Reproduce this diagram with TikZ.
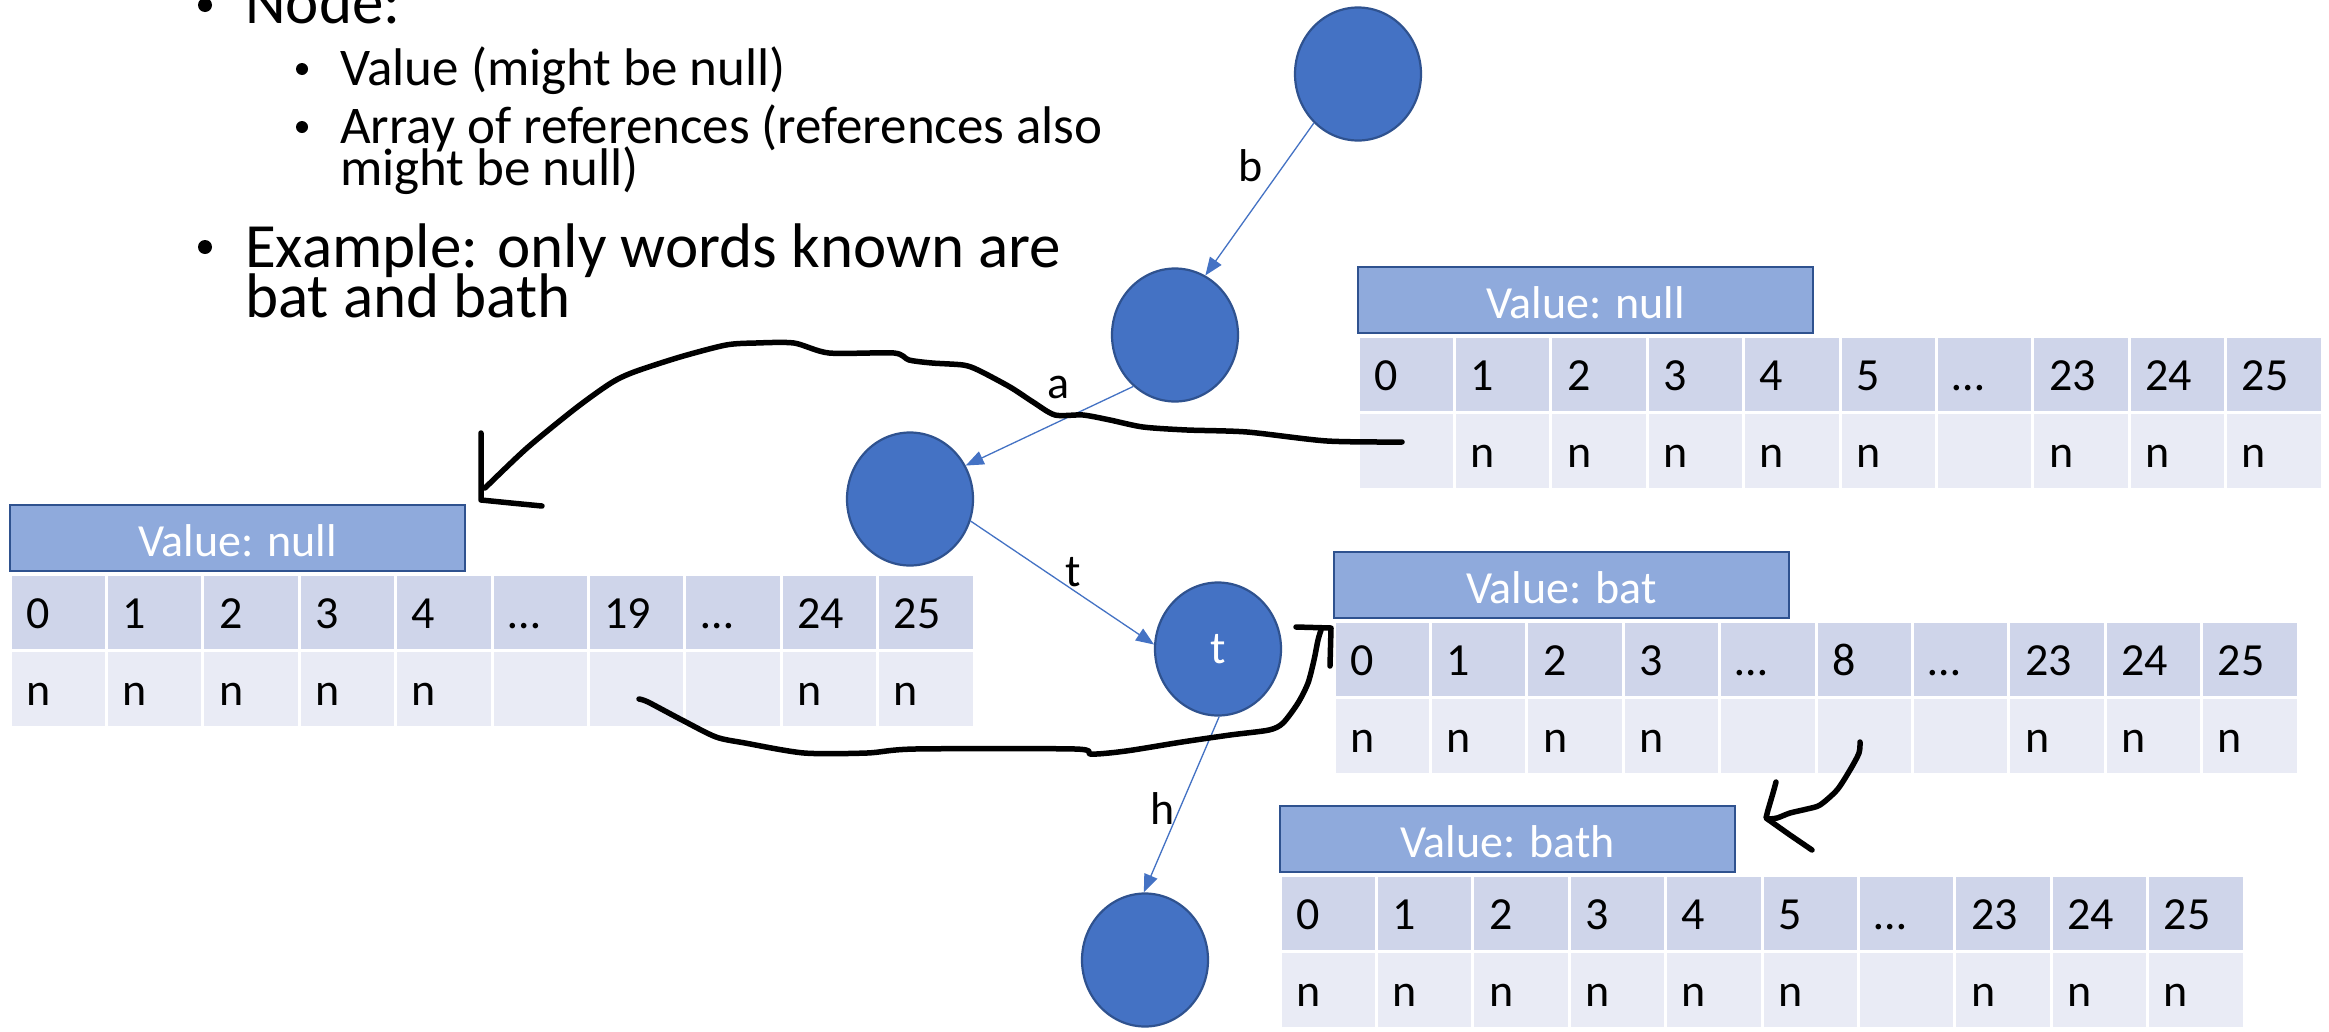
\documentclass[tikz,border=0pt]{standalone}
\usepackage{fontspec}
\setmainfont{Carlito}
\usetikzlibrary{shapes.geometric,arrows.meta}

\definecolor{nodefill}{HTML}{4472C4}
\definecolor{nodeedge}{HTML}{2F528F}
\definecolor{hdrfill}{HTML}{8FAADC}
\definecolor{hdredge}{HTML}{2F528F}
\definecolor{bandA}{HTML}{CFD5EA}
\definecolor{bandB}{HTML}{E9EBF5}

\tikzset{
  trienode/.style={ellipse, fill=nodefill, draw=nodeedge, line width=2.2pt,
    minimum width=126pt, minimum height=133pt, inner sep=0pt, text=white,
    font=\fontsize{46}{50}\selectfont},
  link/.style={draw=nodefill, line width=1.3pt, -{Triangle[length=18pt,width=14pt]}},
  linklabel/.style={anchor=base, inner sep=0pt, font=\fontsize{46}{50}\selectfont},
  ink/.style={line width=5.5pt, line cap=round, line join=round},
  hdr/.style={fill=hdrfill, draw=hdredge, line width=2.2pt},
  cellA/.style={fill=bandA, draw=white, line width=3pt},
  cellB/.style={fill=bandB, draw=white, line width=3pt},
  celltext/.style={anchor=base west, inner sep=0pt, font=\fontsize{46}{50}\selectfont},
  hdrtext/.style={anchor=base, inner sep=0pt, text=white, font=\fontsize{46}{50}\selectfont},
  bigtext/.style={anchor=base west, inner sep=0pt, font=\fontsize{63}{50}\selectfont},
  subtext/.style={anchor=base west, inner sep=0pt, font=\fontsize{53}{42}\selectfont},
}

% one trie node record: #1 name, #2 left x, #3 top y, #4 value text,
% #5 index row, #6 reference row
\newcommand{\childarray}[6]{%
  \path[hdr] (#2,#3) rectangle ++(455,66);
  \node[hdrtext] (#1-hdr) at ({#2+227.5},{#3+51}) {#4};
  \foreach \t [count=\i from 0] in {#5} {
    \path[cellA] ({#2+96.4*\i},{#3+69}) rectangle ++(96.4,76);
    \node[celltext] (#1-i\i) at ({#2+96.4*\i+16},{#3+123}) {\t};
  }
  \foreach \t [count=\i from 0] in {#6} {
    \path[cellB] ({#2+96.4*\i},{#3+145}) rectangle ++(96.4,77);
    \node[celltext] (#1-n\i) at ({#2+96.4*\i+16},{#3+200}) {\t};
  }
}

\begin{document}
\begin{tikzpicture}[x=1pt,y=-1pt]
  \useasboundingbox (0,0) rectangle (2329,1031);
  \fill[white] (0,0) rectangle (2329,1031);
  \clip (0,0) rectangle (2329,1031);

  % bullet list
  \fill (205,5) circle[radius=7pt];
  \node[bigtext] (hNode) at (245,23) {Node:};
  \fill (302,69) circle[radius=6pt];
  \node[subtext] (hValue) at (340,85) {Value (might be null)};
  \fill (302,127) circle[radius=6pt];
  \node[subtext] (hArray) at (340,143) {Array of references (references also};
  \node[subtext] (hArrayB) at (340,185) {might be null)};
  \fill (205,247) circle[radius=7pt];
  \node[bigtext] (hEx) at (245,267) {Example: only words known are};
  \node[bigtext] (hExB) at (245,317) {bat and bath};

  % node records
  \childarray{rootarr}{1358}{267}{Value: null}
    {0,1,2,3,4,5,…,23,24,25}{{},n,n,n,n,n,{},n,n,n}
  \childarray{barr}{10}{505}{Value: null}
    {0,1,2,3,4,…,19,…,24,25}{n,n,n,n,n,{},{},{},n,n}
  \childarray{batarr}{1334}{552}{Value: bat}
    {0,1,2,3,…,8,…,23,24,25}{n,n,n,n,{},{},{},n,n,n}
  \childarray{batharr}{1280}{806}{Value: bath}
    {0,1,2,3,4,5,…,23,24,25}{n,n,n,n,n,n,{},n,n,n}

  % trie nodes
  \node[trienode] (c1) at (1358,74) {};
  \node[trienode] (c2) at (1175,335) {};
  \node[trienode] (c3) at (910,499) {};
  \node[trienode] (c4) at (1218,649) {t};
  \node[trienode] (c5) at (1145,960) {};

  % edges
  \draw[link] (c1.228) -- (c2.63);
  \draw[link] (c2.231) -- (c3.31);
  \draw[link] (c3.340) -- (c4.176);
  \draw[link] (c4.271) -- (c5.91);
  \node[linklabel] (lb) at (1251,181) {b};
  \node[linklabel] (la) at (1059,398) {a};
  \node[linklabel] (lt) at (1073,586) {t};
  \node[linklabel] (lh) at (1163,824) {h};

  % hand-drawn pointers
  \coordinate (p1s) at (1402,442);
  \coordinate (p1e) at (485,488);
  \draw[ink] plot[smooth, tension=0.45] coordinates {(p1s) (1327,441) (1247,432)
    (1187,430) (1143,427) (1110,420) (1083,415) (1055,415) (1033,402) (1010,387)
    (978,370) (963,365) (932,363) (909,360) (894,353) (829,353) (794,343) (756,343)
    (726,345) (680,357) (634,372) (611,383) (576,408) (527,448) (p1e)};
  \coordinate (h1a) at (481,433);
  \coordinate (h1b) at (481,500);
  \coordinate (h1c) at (542,506);
  \draw[ink] (h1a) -- (h1b) -- (511,503) -- (h1c);

  \coordinate (p2s) at (639,699);
  \coordinate (p2e) at (1321,630);
  \draw[ink] plot[smooth, tension=0.45] coordinates {(p2s) (648,702) (682,720)
    (716,737) (745,743) (804,753) (867,753) (915,749) (1075,749) (1090,754)
    (1109,753) (1133,750) (1182,742) (1230,735) (1269,730) (1283,723) (1298,703)
    (1308,683) (1314,660) (1318,640) (p2e)};
  \coordinate (h2a) at (1296,627);
  \coordinate (h2b) at (1331,628);
  \coordinate (h2c) at (1330,666);
  \draw[ink] (h2a) -- (h2b) -- (h2c);

  \coordinate (p3s) at (1860,742);
  \coordinate (p3e) at (1768,819);
  \draw[ink] plot[smooth, tension=0.45] coordinates {(p3s) (1859,753) (1850,770)
    (1837,790) (1820,805) (1807,809) (1790,813) (1777,818) (p3e)};
  \coordinate (h3a) at (1776,782);
  \coordinate (h3b) at (1766,818);
  \coordinate (h3c) at (1812,850);
  \draw[ink] plot[smooth, tension=0.3] coordinates {(h3a) (1773,793) (1768,810) (h3b)}
    -- (1790,835) -- (h3c);
\end{tikzpicture}
\end{document}
